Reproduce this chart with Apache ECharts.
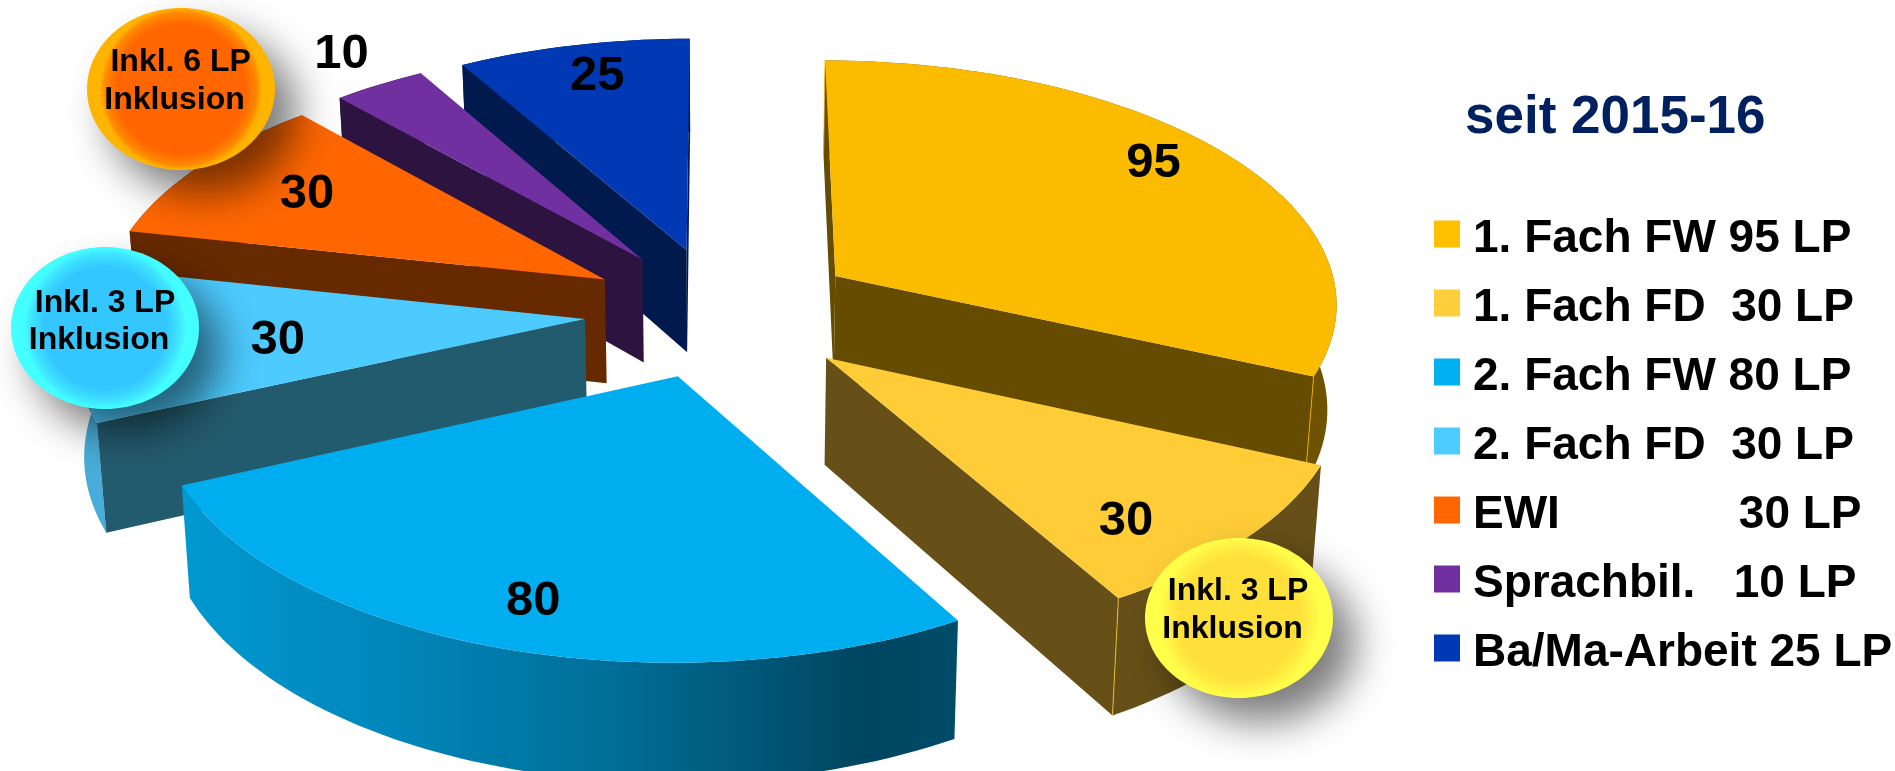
<!DOCTYPE html>
<html>
<head>
<meta charset="utf-8">
<style>html,body{margin:0;padding:0;background:#fff}#chart{width:1895px;height:771px}</style>
<script src="https://cdn.jsdelivr.net/npm/echarts@6/dist/echarts.min.js"></script>
</head>
<body>
<div id="chart"></div>
<script>
// Credit points per study component
const categories = ['1. Fach FW 95 LP', '1. Fach FD  30 LP', '2. Fach FW 80 LP', '2. Fach FD  30 LP',
  'EWI              30 LP', 'Sprachbil.   10 LP', 'Ba/Ma-Arbeit 25 LP'];
const values = [95, 30, 80, 30, 30, 10, 25];
const topColors = ['#FBBC00', '#FDCC37', '#00AEEF', '#4DCBFF', '#FF6600', '#7030A0', '#0039B3'];
const legendColors = ['#FFC000', '#FFCF3B', '#00B0F0', '#4DCDFF', '#FF6600', '#7030A0', '#0039B3'];
const wallColors = ['#664C00', '#665018', '#004660', '#235B6E', '#662900', '#2D1340', '#001A4D'];
const rimColors = ['#6E5200', '#665018', null, '#47ACD9', '#7A3500', '#2D1340', '#001A4D'];
const explode = [0.274, 0.275, 0.27, 0.27, 0.269, 0.27, 0.27];
// Value label placement inside each slice: angle offset from the bisector, radius fraction
const labelTurn = [-4, 6, -0.55, -1, 1.6, 1, 1.2];
const labelRadius = [0.856, 0.8, 0.832, 0.605, 0.739, 1.19, 0.845];
// Far slices are painted first so the near ones overlap them
const paintOrder = [6, 5, 4, 3, 2, 0, 1];

// Pie geometry: the axes below carry the unit pie onto the page
const PIE_X = 721, PIE_Y = 312, RADIUS_X = 505, RADIUS_Y = 244;
const PERSPECTIVE = 0.1, THICKNESS = 105 / RADIUS_Y, BASE_NARROW = 0.985;
const WIDTH = 1895, HEIGHT = 771;

const total = values.reduce((a, b) => a + b, 0);
const startAngle = [];
values.reduce((acc, v, i) => { startAngle[i] = acc; return acc + v / total * 360; }, 0);

const rad = d => d * Math.PI / 180;
const unit = d => [Math.sin(rad(d)), -Math.cos(rad(d))];

function project(api, wx, wy, lower) {
  const s = 1 / (1 - PERSPECTIVE * wy);
  return api.coord([wx * s * (lower ? BASE_NARROW : 1), wy * s + (lower ? THICKNESS * s : 0)]);
}

function renderSlice(i, api) {
  const a0 = startAngle[i], sweep = values[i] / total * 360, mid = a0 + sweep / 2;
  const off = unit(mid).map(c => c * explode[i]);
  const local = (deg, r) => { const u = unit(deg); return [off[0] + u[0] * r, off[1] + u[1] * r]; };
  const P = (w, lower) => project(api, w[0], w[1], lower);

  const arcTop = [], arcLow = [];
  const steps = Math.max(4, Math.round(sweep / 1.5));
  for (let k = 0; k <= steps; k++) {
    const w = local(a0 + sweep * k / steps, 1);
    arcTop.push(P(w, false));
    arcLow.push(P(w, true));
  }
  const apexTop = P(off, false), apexLow = P(off, true);
  const inner = P(local(mid, 0.5), false);
  const children = [];
  const poly = (points, fill) => children.push({ type: 'polygon', shape: { points }, style: { fill }, silent: true });
  const seam = (a, b) => children.push({ type: 'line', shape: { x1: a[0], y1: a[1], x2: b[0], y2: b[1] },
    style: { stroke: topColors[i], lineWidth: 1, opacity: 0.8 }, silent: true });

  // Curved outer side
  let rimFill = rimColors[i];
  if (!rimFill) {
    rimFill = new echarts.graphic.LinearGradient(0, 0, 1, 0, [
      { offset: 0, color: '#0099D0' }, { offset: 0.25, color: '#0088BD' },
      { offset: 0.55, color: '#006F98' }, { offset: 0.88, color: '#00455F' }, { offset: 1, color: '#004C69' }]);
  }
  poly(arcTop.concat(arcLow.slice().reverse()), rimFill);

  // Straight sides, only those turned towards the viewer
  const wallFacesViewer = end => {
    const ex = end[0] - apexTop[0], ey = end[1] - apexTop[1];
    const sideInterior = ex * (inner[1] - apexTop[1]) - ey * (inner[0] - apexTop[0]);
    return ex * sideInterior < 0;
  };
  [[arcTop[0], arcLow[0]], [arcTop[steps], arcLow[steps]]].forEach(pair => {
    if (wallFacesViewer(pair[0])) {
      poly([apexTop, pair[0], pair[1], apexLow], wallColors[i]);
      if (i < 2) seam(pair[0], pair[1]);
    }
  });

  // Top face
  poly([apexTop].concat(arcTop), topColors[i]);

  // Value label
  const lab = P(local(mid + labelTurn[i], labelRadius[i]), false);
  children.push({
    type: 'text', x: lab[0], y: lab[1] + 3, z2: 10, silent: true,
    style: { text: String(values[i]), font: 'bold 49px "Liberation Sans"', fill: '#000',
      align: 'center', verticalAlign: 'middle' }
  });
  return { type: 'group', children };
}

// Callout ellipse with two centred text lines
function bubble(cx, cy, rx, ry, stops, lines) {
  return [
    { type: 'ellipse', z: 100, silent: true, shape: { cx, cy, rx, ry },
      style: { fill: new echarts.graphic.RadialGradient(0.5, 0.5, 0.5, stops),
        shadowBlur: 40, shadowOffsetX: 22, shadowOffsetY: 24, shadowColor: 'rgba(0,0,0,0.52)' } },
    ...lines.map(l => ({ type: 'text', z: 101, silent: true, x: l[1], y: l[2],
      style: { text: l[0], font: 'bold 32px "Liberation Sans"', fill: '#000', align: 'center',
        verticalAlign: 'middle' } }))
  ];
}

const chart = echarts.init(document.getElementById('chart'), null, { renderer: 'canvas' });
chart.setOption({
  animation: false,
  backgroundColor: '#fff',
  title: {
    text: 'seit 2015-16', left: 1460, top: 87,
    textStyle: { color: '#002060', fontFamily: 'Liberation Sans', fontWeight: 'bold', fontSize: 53 }
  },
  legend: {
    data: categories, orient: 'vertical', left: 1434, top: 206, padding: 0,
    icon: 'rect', itemWidth: 26, itemHeight: 27, itemGap: 13, selectedMode: false,
    formatter: name => '{t|' + name + '}',
    textStyle: {
      rich: { t: { color: '#000', fontFamily: 'Liberation Sans', fontWeight: 'bold', fontSize: 46,
        lineHeight: 46, padding: [10, 0, 0, 8] } }
    }
  },
  grid: { left: 0, right: 0, top: 0, bottom: 0 },
  xAxis: { type: 'value', show: false, min: -PIE_X / RADIUS_X, max: (WIDTH - PIE_X) / RADIUS_X },
  yAxis: { type: 'value', show: false, inverse: true, min: -PIE_Y / RADIUS_Y, max: (HEIGHT - PIE_Y) / RADIUS_Y },
  series: paintOrder.map(i => ({
    type: 'custom',
    name: categories[i],
    coordinateSystem: 'cartesian2d',
    clip: false,
    silent: true,
    itemStyle: { color: legendColors[i] },
    data: [[0, 0, values[i]]],
    renderItem: (params, api) => renderSlice(i, api)
  })),
  graphic: {
    elements: [
      ...bubble(181, 89, 94, 81, [
        { offset: 0, color: '#FF6600' }, { offset: 0.8, color: '#FF6600' },
        { offset: 0.94, color: '#FF8A00' }, { offset: 1, color: '#FFB400' }],
        [['Inkl. 6 LP', 180.7, 62], ['Inklusion', 174.5, 100]]),
      ...bubble(105, 328, 94, 81, [
        { offset: 0, color: '#33C6FF' }, { offset: 0.75, color: '#33C6FF' },
        { offset: 0.92, color: '#3FE6FF' }, { offset: 1, color: '#44FFFF' }],
        [['Inkl. 3 LP', 105, 303], ['Inklusion', 99, 340]]),
      ...bubble(1239, 618, 94, 80, [
        { offset: 0, color: '#FFE03A' }, { offset: 0.75, color: '#FFE03A' },
        { offset: 0.92, color: '#FFF244' }, { offset: 1, color: '#FFFF4A' }],
        [['Inkl. 3 LP', 1238, 591], ['Inklusion', 1232.5, 629]])
    ]
  }
});
</script>
</body>
</html>
